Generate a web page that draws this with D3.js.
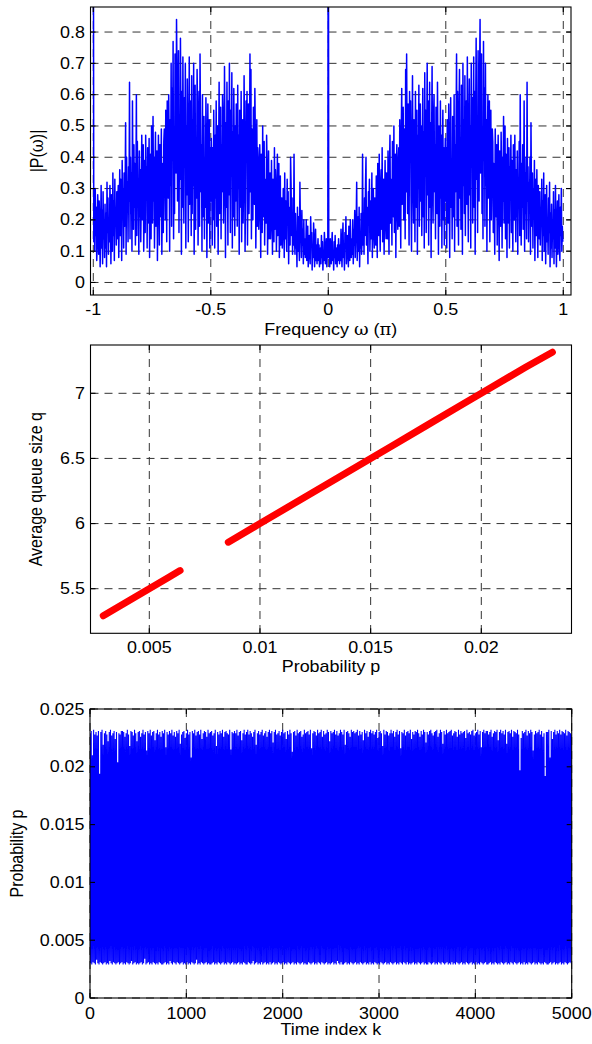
<!DOCTYPE html>
<html><head><meta charset="utf-8">
<script src="https://cdn.jsdelivr.net/npm/d3@7"></script>
<style>
html,body{margin:0;padding:0;background:#fff;}
svg{display:block;}
text{font-family:"Liberation Sans",Arial,Helvetica,sans-serif;font-size:16px;fill:#000;}
</style></head><body>
<svg id="fig" width="592" height="1044"></svg>
<script>
// ---------------- data ----------------
// Panel 1: magnitude spectrum |P(ω)|, ω in units of π
const specXTicks = [-1, -0.5, 0, 0.5, 1];
const specYTicks = [0, 0.1, 0.2, 0.3, 0.4, 0.5, 0.6, 0.7, 0.8];
const specBins = 480;          // bins per half band
const specDC = 160;            // |P(0)|, hundredths
const specNyquist = 150;       // |P(-π)|, hundredths
// |P(ω)| at ω = k/480, k = 1..479 (hundredths)
const specHalf = [
  8,11,5,14,9,6,12,16,7,10,4,13,8,15,6,11,9,5,12,7,14,10,6,
  12,7,17,10,5,14,19,8,11,4,16,13,21,6,9,15,11,5,18,12,7,20,10,8,
  14,9,20,6,17,12,23,8,15,19,32,7,13,21,10,24,5,16,11,22,9,14,41,12,
  21,9,27,15,31,40,12,24,18,6,29,22,33,10,19,26,14,35,8,23,30,16,11,27,
  25,12,34,19,8,38,28,15,41,22,10,31,36,17,43,13,27,33,9,24,39,20,14,35,
  30,14,42,24,9,37,47,19,33,27,12,45,38,21,50,16,29,41,8,35,44,23,17,39,
  43,18,52,31,11,47,62,25,38,56,20,34,49,14,68,29,73,40,22,57,35,12,61,44,
  58,27,10,45,66,33,19,52,40,13,61,36,24,55,9,47,30,63,18,41,57,26,50,15,
  39,62,21,48,11,67,34,55,16,43,70,28,58,12,37,64,24,51,8,45,69,31,19,53,
  60,29,44,14,56,37,22,64,41,9,50,33,18,58,27,47,11,39,55,20,43,12,35,46,
  26,43,11,52,36,19,57,30,8,47,59,24,38,14,53,33,21,60,10,44,29,50,73,18,
  61,34,12,55,68,27,44,17,63,39,9,70,31,52,22,66,15,47,58,25,72,36,13,49,
  65,28,50,11,70,37,59,19,44,72,24,61,9,53,78,33,47,16,74,40,26,66,84,35,
  57,73,22,48,14,77,39,62,18,70,31,52,10,44,60,27,36,58,13,41,55,20,33,49,
  45,16,38,27,9,49,33,21,44,12,36,47,25,7,42,30,18,48,35,11,40,26,53,19,
  34,50,14,41,26,8,46,31,19,43,11,37,29,47,16,39,23,10,44,33,20,47,28,13,
  36,21,42,9,33,27,45,15,60,29,12,38,24,44,17,31,58,10,35,22,40,14,64,26,
  37,13,32,24,40,9,51,28,18,35,11,30,22,39,7,27,33,15,36,20,8,31,25,14,
  29,12,24,18,33,7,26,15,35,10,21,28,6,23,31,13,19,9,27,16,32,5,22,11,
  25,8,20,14,29,6,23,11,31,17,5,19,26,9,22,28,12,7,24,15,30,10,18,13
];

// Panel 2: average queue size q against drop probability p (two branches)
const queueXTicks = [0.005, 0.01, 0.015, 0.02];
const queueYTicks = [5.5, 6, 6.5, 7];
const queueP1 = [0.00292, 0.0034, 0.0039, 0.0044, 0.0049, 0.0054, 0.0059, 0.00639];
const queueQ1 = [5.292, 5.340, 5.390, 5.440, 5.490, 5.540, 5.590, 5.639];
const queueP2 = [0.00857, 0.0100, 0.0115, 0.0130, 0.0145, 0.0160, 0.0175, 0.0190, 0.0205, 0.0220, 0.02321];
const queueQ2 = [5.857, 6.000, 6.150, 6.300, 6.450, 6.600, 6.750, 6.900, 7.050, 7.200, 7.315];

// Panel 3: drop probability p over time index k (units of 1e-4)
const probXTicks = [0, 1000, 2000, 3000, 4000, 5000];
const probYTicks = [0, 0.005, 0.01, 0.015, 0.02, 0.025];
const probKMax = 5000;
const probSeries = [
  229,30,231,29,210,31,232,30,228,29,230,33,227,30,231,29,194,31,230,30,
  232,29,219,30,229,31,231,29,228,30,222,29,230,32,232,30,227,29,229,31,
  231,30,224,29,230,30,204,31,229,29,228,30,231,31,231,29,230,30,226,29,
  229,31,232,30,228,29,218,30,231,32,230,29,227,30,232,31,229,29,222,30,
  230,29,231,30,226,31,229,29,232,30,228,34,230,29,214,30,231,31,229,29,
  232,30,227,29,230,31,231,30,223,29,229,30,232,29,228,31,230,30,226,29,
  231,29,229,30,232,31,217,29,230,30,228,29,231,32,229,30,232,29,227,31,
  230,30,226,29,231,31,229,30,232,29,220,30,228,31,230,29,231,30,225,29,
  229,31,232,29,228,30,230,29,208,31,231,30,229,29,232,30,227,33,230,29,
  231,30,228,29,232,31,224,30,229,29,231,30,230,31,226,29,232,30,229,29,
  230,29,231,30,227,31,229,29,232,30,218,29,230,31,228,30,231,29,229,30,
  232,31,226,29,230,30,231,29,229,31,228,30,232,29,215,30,230,31,229,29,
  231,30,229,29,232,30,227,31,230,29,231,30,223,29,229,31,232,30,228,29,
  230,29,232,31,228,30,231,29,229,30,226,32,230,29,232,30,219,31,229,29,
  231,30,228,29,230,31,232,29,227,30,229,31,231,29,226,30,230,29,232,31,
  229,29,231,30,221,31,230,29,232,30,228,29,229,31,231,30,227,29,230,30,
  232,31,229,29,230,30,224,29,231,31,228,30,232,29,229,30,213,31,230,29,
  231,30,227,29,232,31,229,30,230,29,231,30,226,31,228,29,232,30,229,29,
  230,29,231,31,228,30,232,29,216,30,229,31,231,29,230,30,227,29,232,31,
  229,30,230,29,232,31,226,30,231,29,228,30,229,31,232,29,230,30,222,29,
  231,30,229,31,230,29,232,30,228,29,231,32,227,30,229,29,232,31,230,29,
  228,29,232,30,219,31,230,29,231,30,229,29,226,31,232,30,230,29,231,30,
  229,31,230,29,232,30,227,29,231,31,228,30,230,29,223,30,232,31,229,29,
  231,30,226,29,230,31,232,29,229,30,231,29,228,31,230,30,232,29,225,30,
  230,29,231,31,229,30,218,29,232,30,228,31,231,29,230,30,227,29,229,31,
  232,30,229,29,231,30,226,31,230,29,232,30,228,29,231,31,216,30,230,29,
  229,31,232,30,227,29,230,31,231,29,229,30,232,29,224,30,230,31,228,29,
  231,30,230,29,232,31,229,30,226,29,231,30,228,31,232,29,230,30,221,29,
  230,29,228,31,231,30,232,29,229,30,227,31,230,29,231,30,232,29,226,31,
  229,30,232,29,230,31,220,30,231,29,228,30,232,31,229,29,230,30,231,29,
  232,31,227,29,229,30,231,29,230,31,226,30,232,29,228,30,231,31,229,29,
  230,30,231,29,225,31,232,30,229,29,230,30,228,31,231,29,232,30,227,29,
  229,31,230,29,232,30,228,29,231,31,217,30,230,29,232,30,229,31,231,29,
  231,29,228,30,230,31,232,29,226,30,229,29,231,31,230,30,232,29,223,30,
  230,29,232,31,229,30,231,29,228,30,232,31,220,29,230,30,231,29,229,31,
  232,30,226,29,231,31,230,30,229,29,232,30,228,31,197,29,225,30,231,29,
  229,31,230,29,232,30,227,29,231,31,229,30,232,29,230,30,214,31,228,29,
  231,30,229,29,230,31,232,30,228,29,231,30,226,29,229,31,192,30,230,29,
  230,29,232,30,208,31,231,29,224,30,230,31,232,29,228,30,231,29,229,30,
  232,31,228,29,231,30,230,29,229,31,232,30,227,29,231,30,230,31,229,30,
  228
];

// ---------------- drawing ----------------
const svg = d3.select("#fig");
const STRETCH = 1.12;   // horizontal glyph stretch of the figure's lettering
const SERIF = '"DejaVu Serif","Liberation Serif",serif';

function addText(g, x, y, parts, anchor, rotate) {
  const t = g.append("text")
    .attr("text-anchor", anchor)
    .attr("transform", `translate(${x},${y}) scale(${STRETCH},1)` + (rotate ? " rotate(-90)" : ""));
  parts.forEach(p => {
    const span = t.append("tspan").text(typeof p === "string" ? p : p.t);
    if (p.serif) span.style("font-family", SERIF);
  });
  return t;
}

function panel(cfg) {
  const g = svg.append("g");
  const x = d3.scaleLinear().domain(cfg.xDomain).range([cfg.left, cfg.right]);
  const y = d3.scaleLinear().domain(cfg.yDomain).range([cfg.bottom, cfg.top]);
  const w = cfg.right - cfg.left, h = cfg.bottom - cfg.top;

  // dashed grid under the data
  const grid = g.append("g").attr("stroke", "#333").attr("stroke-width", 1)
    .attr("stroke-dasharray", "8,6").attr("fill", "none");
  cfg.xTicks.forEach(v => grid.append("line")
    .attr("x1", x(v)).attr("x2", x(v)).attr("y1", cfg.top).attr("y2", cfg.bottom));
  cfg.yTicks.forEach(v => grid.append("line")
    .attr("y1", y(v)).attr("y2", y(v)).attr("x1", cfg.left).attr("x2", cfg.right));

  const clipId = "clip" + cfg.id;
  g.append("clipPath").attr("id", clipId).append("rect")
    .attr("x", cfg.left).attr("y", cfg.top).attr("width", w).attr("height", h);
  const plot = g.append("g").attr("clip-path", `url(#${clipId})`);
  cfg.draw(plot, x, y);

  // frame and inward ticks on all four sides
  const ax = g.append("g").attr("stroke", "#000").attr("stroke-width", 1.1).attr("fill", "none");
  ax.append("rect").attr("x", cfg.left).attr("y", cfg.top).attr("width", w).attr("height", h);
  const tl = 5;
  cfg.xTicks.forEach(v => {
    ax.append("line").attr("x1", x(v)).attr("x2", x(v)).attr("y1", cfg.bottom).attr("y2", cfg.bottom - tl);
    ax.append("line").attr("x1", x(v)).attr("x2", x(v)).attr("y1", cfg.top).attr("y2", cfg.top + tl);
  });
  cfg.yTicks.forEach(v => {
    ax.append("line").attr("y1", y(v)).attr("y2", y(v)).attr("x1", cfg.left).attr("x2", cfg.left + tl);
    ax.append("line").attr("y1", y(v)).attr("y2", y(v)).attr("x1", cfg.right).attr("x2", cfg.right - tl);
  });

  // tick labels
  cfg.xTicks.forEach(v => addText(g, x(v), cfg.xTickBase, [String(v)], "middle"));
  cfg.yTicks.forEach(v => addText(g, cfg.left - 5.5, y(v) + 5.5, [String(v)], "end"));

  // axis titles
  addText(g, (cfg.left + cfg.right) / 2, cfg.xTitleBase, cfg.xTitle, "middle");
  addText(g, cfg.yTitleX, (cfg.top + cfg.bottom) / 2, cfg.yTitle, "middle", true);
}

// Panel 1: spectrum. |P(ω)| of a real sequence is even, so the negative band mirrors the positive one.
const spectrum = [{ w: -1, v: specNyquist / 100 }];
for (let k = specBins - 1; k >= 1; k--) spectrum.push({ w: -k / specBins, v: specHalf[k - 1] / 100 });
spectrum.push({ w: 0, v: specDC / 100 });
for (let k = 1; k < specBins; k++) spectrum.push({ w: k / specBins, v: specHalf[k - 1] / 100 });

panel({
  id: 1, left: 90.5, right: 571, top: 7, bottom: 295,
  xDomain: [-1.0119, 1.0328], yDomain: [-0.04, 0.88],
  xTicks: specXTicks, yTicks: specYTicks,
  xTickBase: 315, xTitleBase: 335, yTitleX: 43,
  xTitle: ["Frequency ", { t: "ω", serif: true }, " (", { t: "π", serif: true }, ")"],
  yTitle: ["|P(", { t: "ω", serif: true }, ")|"],
  draw: (p, x, y) => {
    p.append("path").datum(spectrum)
      .attr("fill", "none").attr("stroke", "#0000ff").attr("stroke-width", 1.5)
      .attr("stroke-linejoin", "round")
      .attr("d", d3.line().x(d => x(d.w)).y(d => y(d.v)));
  }
});

// Panel 2: queue size vs probability
panel({
  id: 2, left: 90.5, right: 571.5, top: 345, bottom: 633.3,
  xDomain: [0.002343, 0.024075], yDomain: [5.1576, 7.3708],
  xTicks: queueXTicks, yTicks: queueYTicks,
  xTickBase: 652.5, xTitleBase: 672, yTitleX: 42,
  xTitle: ["Probability p"],
  yTitle: ["Average queue size q"],
  draw: (p, x, y) => {
    const line = d3.line().x(d => x(d[0])).y(d => y(d[1]));
    [d3.zip(queueP1, queueQ1), d3.zip(queueP2, queueQ2)].forEach(seg => {
      p.append("path").datum(seg)
        .attr("fill", "none").attr("stroke", "#ff0000").attr("stroke-width", 7)
        .attr("stroke-linecap", "round").attr("stroke-linejoin", "round")
        .attr("d", line);
    });
  }
});

// Panel 3: probability time series
const probStep = probKMax / (probSeries.length - 1);
panel({
  id: 3, left: 90, right: 571.7, top: 709, bottom: 998,
  xDomain: [0, 5000], yDomain: [0, 0.025],
  xTicks: probXTicks, yTicks: probYTicks,
  xTickBase: 1019, xTitleBase: 1035, yTitleX: 23,
  xTitle: ["Time index k"],
  yTitle: ["Probability p"],
  draw: (p, x, y) => {
    p.append("path").datum(probSeries)
      .attr("fill", "none").attr("stroke", "#0000ff").attr("stroke-width", 1.1)
      .attr("d", d3.line().x((d, i) => x(i * probStep)).y(d => y(d / 10000)));
  }
});
</script>
</body></html>
